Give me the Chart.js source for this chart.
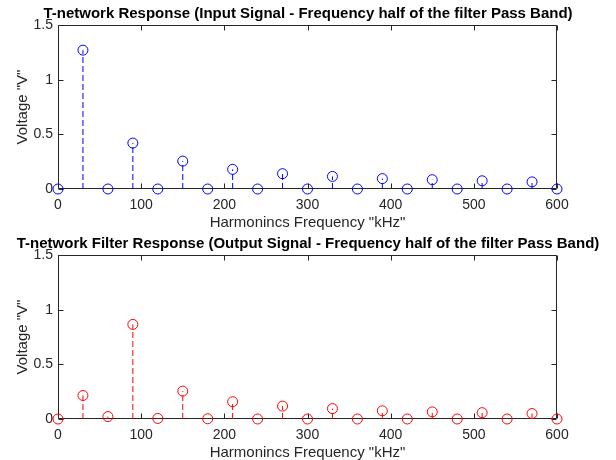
<!DOCTYPE html>
<html>
  <head>
    <script src="https://cdn.jsdelivr.net/npm/chart.js@4.4.1/dist/chart.umd.min.js"></script>
    <style>
      body { margin: 0; background: #fff; }
      canvas { display: block; }
    </style>
  </head>
  <body>
    <canvas id="topChart" width="616" height="230"></canvas>
    <canvas id="bottomChart" width="616" height="230"></canvas>

    <script>
      // harmonic frequencies (kHz) and amplitudes
      var freqs = [0, 30, 60, 90, 120, 150, 180, 210, 240, 270, 300,
                   330, 360, 390, 420, 450, 480, 510, 540, 570, 600];
      var inputVolts = [0, 1.27, 0, 0.42, 0, 0.255, 0, 0.18, 0, 0.14, 0,
                        0.115, 0, 0.095, 0, 0.085, 0, 0.075, 0, 0.065, 0];
      var outputVolts = [0, 0.215, 0.022, 0.865, 0.005, 0.255, 0.002, 0.158, 0, 0.118, 0,
                         0.095, 0, 0.075, 0, 0.065, 0, 0.058, 0, 0.05, 0];
      var xTicks = [0, 100, 200, 300, 400, 500, 600];
      var yTicks = [0, 0.5, 1, 1.5];

      var FONT = "'Liberation Sans', Arial, sans-serif";
      var AXIS_COLOR = "#262626";

      // draws the full box plus inward ticks on all four sides (MATLAB style)
      var boxPlugin = {
        id: "boxTicks",
        beforeDatasetsDraw: function (chart) {
          var ctx = chart.ctx;
          var a = chart.chartArea;
          var x = chart.scales.x, y = chart.scales.y;
          var L = Math.round(a.left) + 0.5, R = Math.round(a.right) - 0.5;
          var T = Math.round(a.top) + 0.5, B = Math.round(a.bottom) - 0.5;
          var len = 5;
          ctx.save();
          ctx.strokeStyle = AXIS_COLOR;
          ctx.lineWidth = 1;
          ctx.beginPath();
          ctx.rect(L, T, R - L, B - T);
          xTicks.forEach(function (v) {
            var px = Math.round(x.getPixelForValue(v)) + 0.5;
            ctx.moveTo(px, B); ctx.lineTo(px, B - len);
            ctx.moveTo(px, T); ctx.lineTo(px, T + len);
          });
          yTicks.forEach(function (v) {
            var py = Math.round(y.getPixelForValue(v)) + 0.5;
            ctx.moveTo(L, py); ctx.lineTo(L + len, py);
            ctx.moveTo(R, py); ctx.lineTo(R - len, py);
          });
          ctx.stroke();
          ctx.restore();
        },
      };

      function stemPoints(values) {
        var pts = [];
        for (var i = 0; i < freqs.length; i++) {
          pts.push({ x: freqs[i], y: 0 });
          pts.push({ x: freqs[i], y: values[i] });
          pts.push({ x: freqs[i], y: null });
        }
        return pts;
      }

      function makeChart(id, title, values, color) {
        var ctx = document.getElementById(id).getContext("2d");
        return new Chart(ctx, {
          type: "scatter",
          data: {
            datasets: [
              {
                label: "markers",
                data: freqs.map(function (f, i) { return { x: f, y: values[i] }; }),
                showLine: false,
                pointStyle: "circle",
                pointRadius: 5,
                pointHoverRadius: 5,
                pointBorderWidth: 1,
                pointBorderColor: color,
                pointBackgroundColor: "rgba(0,0,0,0)",
                clip: false,
                order: 1,
              },
              {
                label: "stems",
                data: stemPoints(values),
                showLine: true,
                spanGaps: false,
                borderColor: color,
                borderWidth: 1,
                borderDash: [6, 3],
                pointRadius: 0,
                pointHoverRadius: 0,
                order: 2,
              },
            ],
          },
          options: {
            responsive: false,
            animation: false,
            events: [],
            layout: { padding: 0 },
            plugins: {
              legend: { display: false },
              tooltip: { enabled: false },
              title: {
                display: true,
                text: title,
                color: "#000",
                font: { family: FONT, size: 15, weight: "bold", lineHeight: 1.2 },
                padding: { top: 5, bottom: 2 },
              },
            },
            scales: {
              x: {
                type: "linear",
                min: 0,
                max: 600,
                afterBuildTicks: function (s) {
                  s.ticks = xTicks.map(function (v) { return { value: v }; });
                },
                afterFit: function (s) { s.height = 41; },
                grid: { display: false, drawTicks: false },
                border: { display: false },
                ticks: {
                  color: AXIS_COLOR,
                  font: { family: FONT, size: 14 },
                  padding: 8,
                  maxRotation: 0,
                },
                title: {
                  display: true,
                  text: 'Harmonincs Frequency "kHz"',
                  color: AXIS_COLOR,
                  font: { family: FONT, size: 15, lineHeight: 1 },
                  padding: { top: 0, bottom: 0 },
                },
              },
              y: {
                type: "linear",
                position: "left",
                min: 0,
                max: 1.5,
                afterBuildTicks: function (s) {
                  s.ticks = yTicks.map(function (v) { return { value: v }; });
                },
                afterFit: function (s) { s.width = 58; },
                grid: { display: false, drawTicks: false },
                border: { display: false },
                ticks: {
                  color: AXIS_COLOR,
                  font: { family: FONT, size: 14 },
                  padding: 5,
                  callback: function (v) { return String(v); },
                },
                title: {
                  display: true,
                  text: 'Voltage "V"',
                  color: AXIS_COLOR,
                  font: { family: FONT, size: 15 },
                  padding: { top: 14, bottom: 0 },
                },
              },
              yRight: {
                type: "linear",
                position: "right",
                display: true,
                afterFit: function (s) { s.width = 59; },
                grid: { display: false },
                border: { display: false },
                ticks: { display: false },
              },
            },
          },
          plugins: [boxPlugin],
        });
      }

      makeChart("topChart",
        "T-network Response (Input Signal - Frequency half of the filter Pass Band)",
        inputVolts, "#0000ff");
      makeChart("bottomChart",
        "T-network Filter Response (Output Signal - Frequency half of the filter Pass Band)",
        outputVolts, "#ff0000");
    </script>
  </body>
</html>
